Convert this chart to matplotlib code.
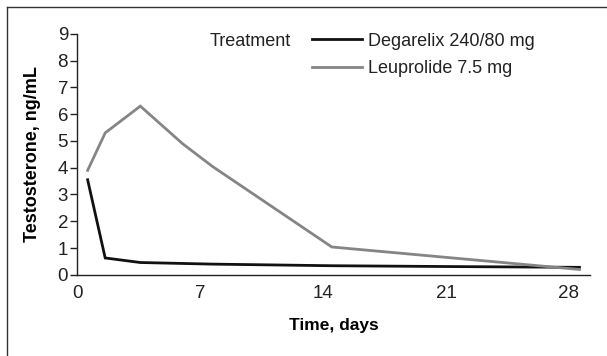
import matplotlib.pyplot as plt
from matplotlib.lines import Line2D

# testosterone levels (ng/mL) over time (days)
degarelix_days = [0.6, 1.6, 3.6, 7.7, 14.5, 21.0, 28.6]
degarelix_vals = [3.55, 0.63, 0.46, 0.40, 0.34, 0.31, 0.28]

leuprolide_days = [0.6, 1.6, 3.6, 6.0, 7.7, 14.5, 28.6]
leuprolide_vals = [3.9, 5.3, 6.3, 4.9, 4.05, 1.04, 0.2]

x_ticks = [0, 7, 14, 21, 28]
y_ticks = list(range(0, 10))

plt.rcParams['font.family'] = ['Liberation Sans', 'DejaVu Sans']

fig = plt.figure(figsize=(6.07, 3.56), dpi=100)
ax = fig.add_axes([0.127, 0.228, 0.845, 0.677])

ax.plot(degarelix_days, degarelix_vals, color='#111111', lw=2.0,
        solid_joinstyle='miter', label='Degarelix 240/80 mg')
ax.plot(leuprolide_days, leuprolide_vals, color='#858585', lw=2.0,
        solid_joinstyle='miter', label='Leuprolide 7.5 mg')

ax.set_xlim(0, 29.2)
ax.set_ylim(0, 9)
ax.set_xticks(x_ticks)
ax.set_yticks(y_ticks)
ax.tick_params(axis='x', length=0, pad=7, labelsize=13.5, colors='#222222')
ax.tick_params(axis='y', length=5, width=1, pad=1.5, labelsize=13.5, colors='#222222')
for side in ['top', 'right']:
    ax.spines[side].set_visible(False)
for side in ['left', 'bottom']:
    ax.spines[side].set_color('#222222')
    ax.spines[side].set_linewidth(1)

ax.set_ylabel('Testosterone, ng/mL', fontsize=13, fontweight='bold', labelpad=12)
ax.set_xlabel('Time, days', fontsize=12.5, fontweight='bold', labelpad=12)

fig.text(210 / 607, 1 - 41 / 356, 'Treatment', fontsize=13, va='center', color='#222222')
leg = ax.legend(loc='upper left', bbox_to_anchor=(0.443, 1.035), frameon=False,
                fontsize=13, handlelength=2.8, handletextpad=0.3,
                labelspacing=0.6, borderaxespad=0)
for t in leg.get_texts():
    t.set_color('#222222')

# outer frame, only left and top edges
fig.add_artist(Line2D([7 / 607, 7 / 607], [0, 1 - 7 / 356], color='#333333', lw=1))
fig.add_artist(Line2D([7 / 607, 1], [1 - 7 / 356, 1 - 7 / 356], color='#333333', lw=1))

fig.savefig('out.png', dpi=100)
